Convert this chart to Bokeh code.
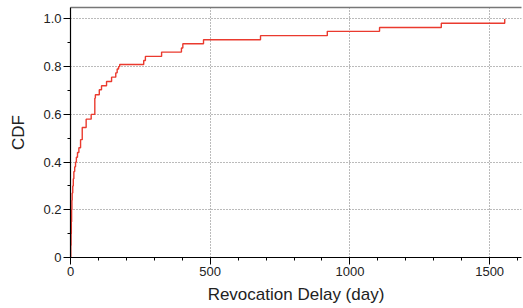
from bokeh.plotting import figure
from bokeh.models import LinearAxis, Range1d, FixedTicker, CustomJSTickFormatter
from bokeh.embed import file_html
from bokeh.resources import INLINE

# Revocation delay (days) at which the CDF steps up, and the CDF value after each step
delay_days = [0, 1, 2, 3, 4, 5, 6, 8, 10, 12, 15, 18, 21, 25, 30, 36, 42, 56, 74, 87,
              89, 103, 111, 129, 147, 162, 167, 172, 176, 262, 268, 326, 397, 402, 476,
              680, 919, 1106, 1327, 1554]
cdf = [0.0, 0.05, 0.10, 0.15, 0.20, 0.24, 0.27, 0.30, 0.33, 0.36, 0.38, 0.40, 0.42, 0.44,
       0.46, 0.494, 0.545, 0.58, 0.60, 0.668, 0.682, 0.703, 0.72, 0.738, 0.756, 0.774,
       0.79, 0.80, 0.809, 0.826, 0.843, 0.861, 0.878, 0.896, 0.913, 0.930, 0.948, 0.964,
       0.982, 1.0]

x_ticks = [0, 500, 1000, 1500]
x_minor = [v for v in range(0, 1700, 100)]
y_ticks = [0, 0.2, 0.4, 0.6, 0.8, 1.0]

FONT = "Liberation Sans"

p = figure(width=523, height=308, output_backend="svg", toolbar_location=None,
           x_range=Range1d(0, 1614), y_range=Range1d(0, 1.048),
           min_border_left=70, min_border_right=2, min_border_top=7, min_border_bottom=51)
p.outline_line_color = None
p.background_fill_color = "white"
p.border_fill_color = "white"

p.step(delay_days, cdf, mode="after", line_color="#ea3a2e", line_width=1.4)

# axes
xa = p.xaxis[0]
xa.ticker = FixedTicker(ticks=x_ticks, minor_ticks=x_minor)
xa.axis_label = "Revocation Delay (day)"
ya = p.yaxis[0]
ya.ticker = FixedTicker(ticks=y_ticks, minor_ticks=[i / 10 for i in range(11)])
ya.formatter = CustomJSTickFormatter(code="return tick == 0 ? '0' : tick.toFixed(1);")
ya.axis_label = "CDF"

for ax in (xa, ya):
    ax.axis_line_color = "black"
    ax.axis_line_width = 1.2
    ax.major_tick_line_color = "black"
    ax.minor_tick_line_color = "black"
    ax.major_tick_out = 7
    ax.major_tick_in = 0
    ax.minor_tick_out = 3
    ax.minor_tick_in = 0
    ax.major_label_text_font = FONT
    ax.major_label_text_font_size = "13px"
    ax.major_label_text_color = "#222222"
    ax.axis_label_text_font = FONT
    ax.axis_label_text_font_size = "17px"
    ax.axis_label_text_font_style = "normal"
    ax.axis_label_text_color = "#222222"
ya.major_label_standoff = 2
xa.major_label_standoff = 2
xa.axis_label_standoff = 6
ya.axis_label_standoff = 12

top = LinearAxis(ticker=FixedTicker(ticks=[]), major_label_text_font_size="0px",
                 axis_line_color="#777777", axis_line_width=1.5,
                 major_tick_line_color=None, minor_tick_line_color=None)
p.add_layout(top, "above")

for g in (p.xgrid[0], p.ygrid[0]):
    g.grid_line_color = "#777777"
    g.grid_line_dash = "1 2"
    g.grid_line_width = 1
p.xgrid[0].ticker = FixedTicker(ticks=x_ticks)
p.ygrid[0].ticker = FixedTicker(ticks=y_ticks)

open("out.html", "w").write(file_html(p, INLINE))
